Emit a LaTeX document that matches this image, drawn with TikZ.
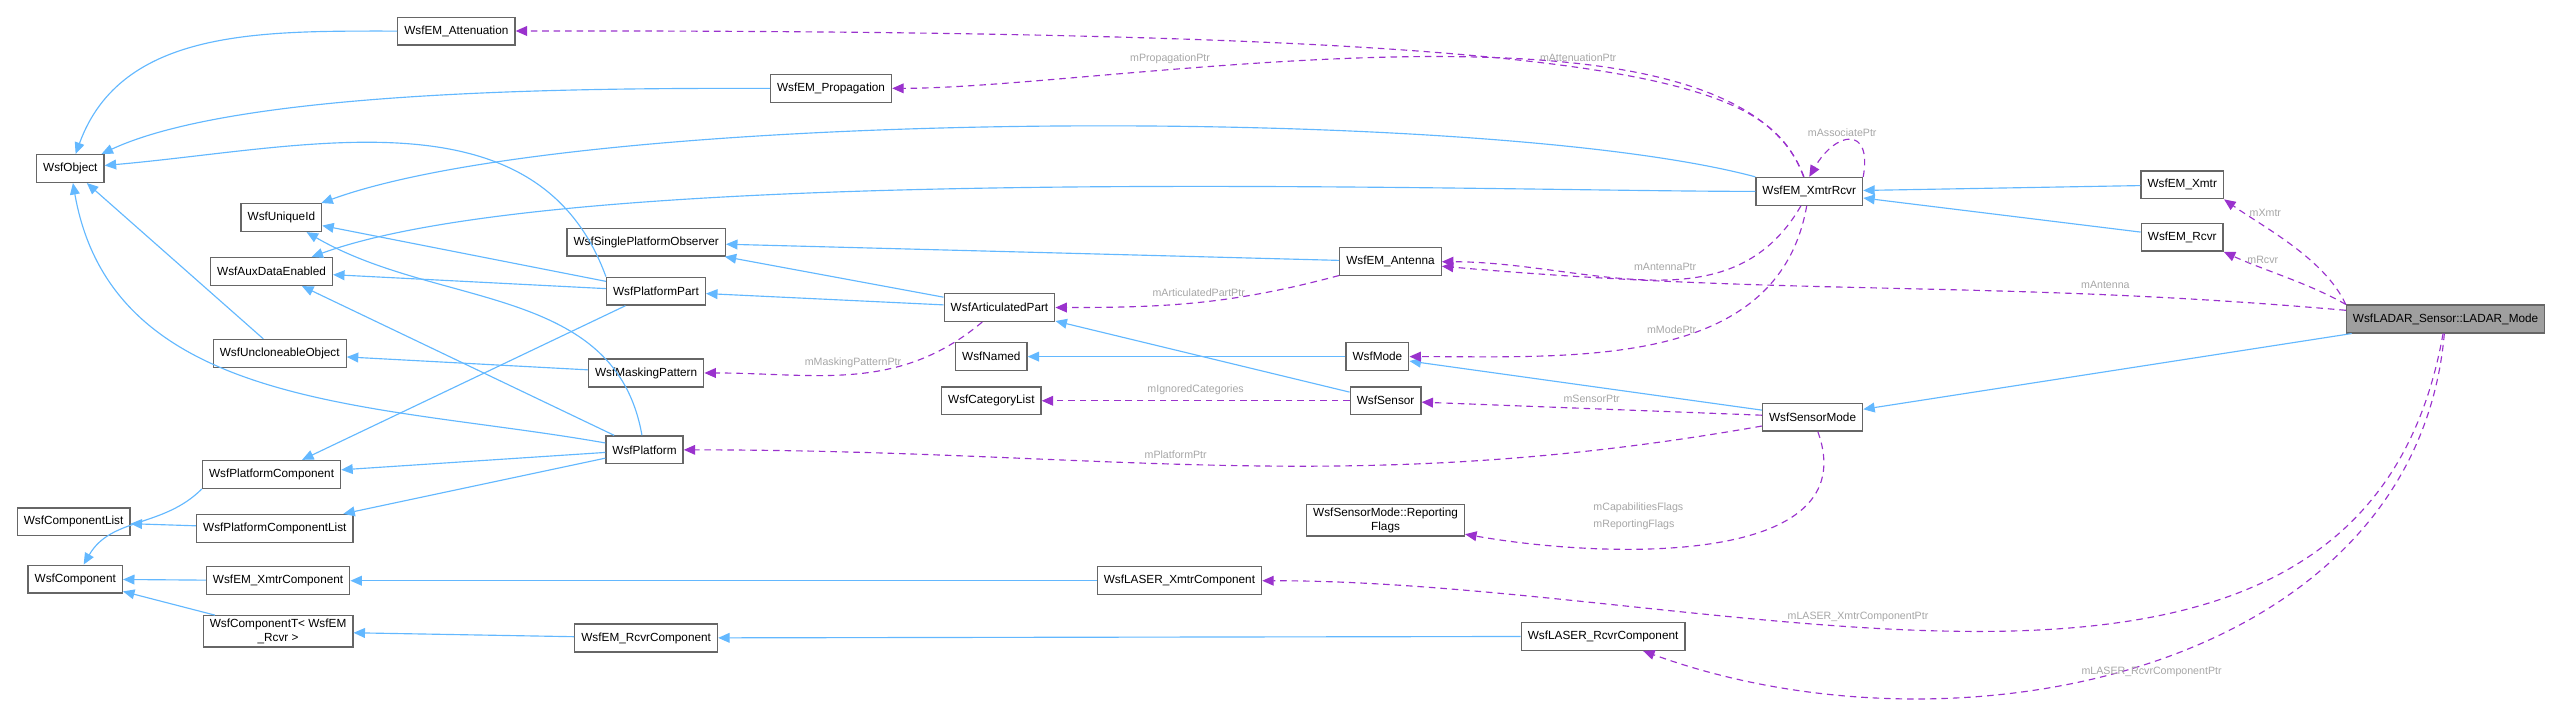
\documentclass[tikz,border=0pt]{standalone}
\usepackage{fontspec}
\setmainfont{Liberation Sans}
\usetikzlibrary{arrows.meta}
\definecolor{inhblue}{HTML}{63B8FF}
\definecolor{usepurple}{HTML}{9A32CD}
\definecolor{boxgray}{HTML}{666666}
\begin{document}
\begin{tikzpicture}[x=1pt,y=-1pt,
  cls/.style={draw=boxgray,fill=white,line width=0.8pt,font=\fontsize{7.2}{8.5}\selectfont,
    inner xsep=4pt,inner ysep=2pt,minimum height=17pt,align=center},
  inh/.style={color=inhblue,line width=0.7pt,-{Triangle[length=7pt,width=6pt]}},
  use/.style={color=usepurple,line width=0.7pt,dash pattern=on 4pt off 3pt,-{Triangle[length=7pt,width=6pt]}},
  lbl/.style={text=gray!70,font=\fontsize{6.5}{7.5}\selectfont,align=left}]
\useasboundingbox (0,0) rectangle (1568,428);

% define the classes
  \node[cls] (obj)   at (43,103)  {WsfObject};
  \node[cls] (att)   at (279,19)  {WsfEM\_Attenuation};
  \node[cls] (prop)  at (508,54)  {WsfEM\_Propagation};
  \node[cls] (uid)   at (172,133) {WsfUniqueId};
  \node[cls] (aux)   at (166,166) {WsfAuxDataEnabled};
  \node[cls] (spo)   at (395,148) {WsfSinglePlatformObserver};
  \node[cls] (ppart) at (401,178) {WsfPlatformPart};
  \node[cls] (apart) at (611,188) {WsfArticulatedPart};
  \node[cls] (ant)   at (850,160) {WsfEM\_Antenna};
  \node[cls] (xr)    at (1106,117) {WsfEM\_XmtrRcvr};
  \node[cls] (xmtr)  at (1334,113) {WsfEM\_Xmtr};
  \node[cls] (rcvr)  at (1334,145) {WsfEM\_Rcvr};
  \node[cls,fill=gray!75] (ladar) at (1495,195) {WsfLADAR\_Sensor::LADAR\_Mode};
  \node[cls] (uncl)  at (171,216) {WsfUncloneableObject};
  \node[cls] (mask)  at (395,228) {WsfMaskingPattern};
  \node[cls] (named) at (606,218) {WsfNamed};
  \node[cls] (mode)  at (842,218) {WsfMode};
  \node[cls] (cat)   at (606,245) {WsfCategoryList};
  \node[cls] (sens)  at (847,245) {WsfSensor};
  \node[cls] (smode) at (1108,255) {WsfSensorMode};
  \node[cls] (plat)  at (394,275) {WsfPlatform};
  \node[cls] (pcomp) at (166,290) {WsfPlatformComponent};
  \node[cls] (clist) at (45,319)  {WsfComponentList};
  \node[cls] (pclist) at (168,323) {WsfPlatformComponentList};
  \node[cls] (comp)  at (46,354)  {WsfComponent};
  \node[cls] (xcomp) at (170,355) {WsfEM\_XmtrComponent};
  \node[cls] (compt) at (170,386) {WsfComponentT< WsfEM\\\_Rcvr >};
  \node[cls] (rcomp) at (395,390) {WsfEM\_RcvrComponent};
  \node[cls] (lxcomp) at (721,355) {WsfLASER\_XmtrComponent};
  \node[cls] (lrcomp) at (980,389) {WsfLASER\_RcvrComponent};
  \node[cls] (flags) at (847,318) {WsfSensorMode::Reporting\\Flags};

% define the inheritance links
  \path[inh] (att) edge [out=180,in=70] (obj)
             (prop) edge [out=180,in=25,looseness=0.6] (obj)
             (xr.north west) edge [out=165,in=20,looseness=0.5] (uid)
             (xr) edge [out=180,in=20,looseness=0.5] (aux)
             (ppart.north west) edge [out=110,in=5] (obj)
             (ppart) edge (uid)
             (ppart) edge (aux)
             (ppart) edge (pcomp)
             (uncl) edge (obj)
             (plat) edge [out=170,in=-80] (obj)
             (plat) edge [out=100,in=-30] (uid)
             (plat) edge (aux)
             (plat) edge (pcomp)
             (plat) edge (pclist)
             (mask) edge (uncl)
             (apart) edge (spo)
             (apart) edge (ppart)
             (ant) edge (spo)
             (sens) edge (apart)
             (mode) edge (named)
             (smode) edge (mode)
             (ladar) edge (smode)
             (xmtr) edge (xr)
             (rcvr) edge (xr)
             (pclist) edge (clist)
             (pcomp.south west) edge [out=-135,in=60] (comp)
             (xcomp) edge (comp)
             (compt) edge (comp)
             (rcomp) edge (compt)
             (lxcomp) edge (xcomp)
             (lrcomp) edge (rcomp);

% define the member links
  \path[use] (xr) edge [to path={.. controls (1080,50) and (1020,18) .. (\tikztotarget) \tikztonodes}] node[lbl,pos=0.5,above] {mAttenuationPtr} (att)
             (xr) edge [out=110,in=0,looseness=0.6] node[lbl,pos=0.7,above] {mPropagationPtr} (prop)
             (xr.north east) edge [out=80,in=60,looseness=2.5] node[lbl,above,pos=0.6] {mAssociatePtr} (xr.north)
             (xr) edge [out=-120,in=0] node[lbl,pos=0.35,above left] {mAntennaPtr} (ant)
             (xr) edge [out=-100,in=0] node[lbl,pos=0.4,left] {mModePtr} (mode)
             (ant) edge [out=-165,in=0] node[lbl,pos=0.5,above] {mArticulatedPartPtr} (apart)
             (apart) edge [out=-140,in=0] node[lbl,pos=0.5,above] {mMaskingPatternPtr} (mask)
             (sens) edge node[lbl,above] {mIgnoredCategories} (cat)
             (smode) edge node[lbl,pos=0.5,above] {mSensorPtr} (sens)
             (smode) edge [out=-170,in=0] node[lbl,pos=0.55,above] {mPlatformPtr} (plat)
             (smode) edge [out=-70,in=-10] node[lbl,pos=0.55,above left,yshift=6pt] {mCapabilitiesFlags\\[3pt]mReportingFlags} (flags)
             (ladar.north west) edge [out=115,in=-35,looseness=0.8] node[lbl,pos=0.85,right] {mXmtr} (xmtr.south east)
             (ladar.north west) edge [out=150,in=-25,looseness=0.8] node[lbl,pos=0.85,right] {mRcvr} (rcvr.south east)
             (ladar) edge [out=175,in=-5] node[lbl,pos=0.25,above] {mAntenna} (ant)
             (ladar) edge [out=-100,in=0] node[lbl,pos=0.6,above] {mLASER\_XmtrComponentPtr} (lxcomp)
             (ladar) edge [out=-95,in=-20] node[lbl,pos=0.5,below] {mLASER\_RcvrComponentPtr} (lrcomp);
\end{tikzpicture}
\end{document}
